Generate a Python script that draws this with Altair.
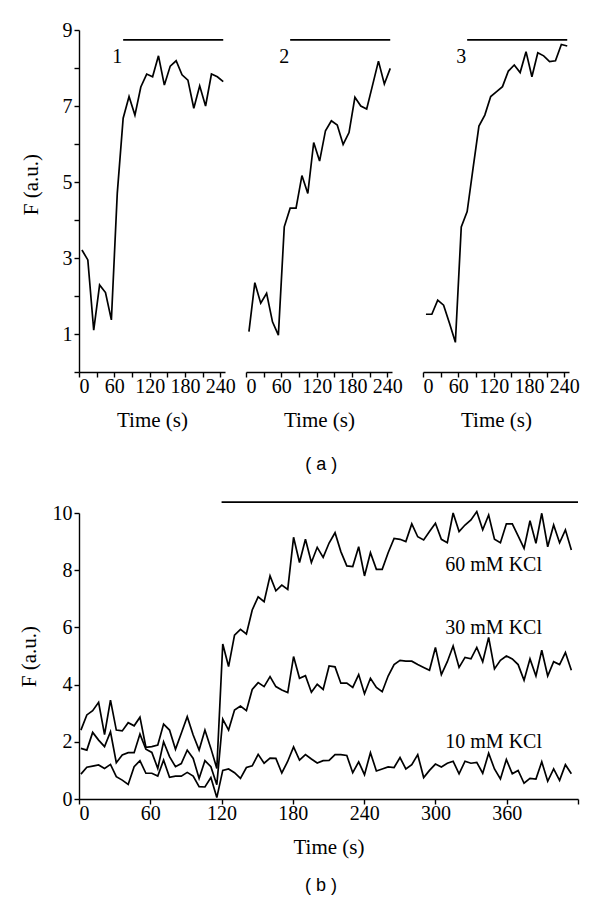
import altair as alt
import numpy as np
import pandas as pd

FONT = "Liberation Serif"
SANS = "Liberation Sans"

# ---------------- Panel (a) data ----------------
t_a = [5, 15, 25, 35, 45, 55, 65, 75, 85, 95, 105, 115, 125, 135, 145,
       155, 165, 175, 185, 195, 205, 215, 225, 235, 245]
f_a1 = [3.21, 2.95, 1.10, 2.29, 2.09, 1.37, 4.70, 6.68, 7.25, 6.76, 7.50, 7.84,
        7.77, 8.32, 7.55, 8.05, 8.19, 7.82, 7.68, 6.94, 7.53, 7.00, 7.84, 7.77, 7.64]
f_a2 = [1.06, 2.35, 1.81, 2.07, 1.32, 0.97, 3.82, 4.31, 4.31, 5.17, 4.70, 6.04,
        5.55, 6.35, 6.61, 6.50, 5.99, 6.30, 7.23, 7.00, 6.92, 7.55, 8.18, 7.58, 7.99]
f_a3 = [1.52, 1.52, 1.89, 1.76, 1.28, 0.78, 3.82, 4.22, 5.36, 6.47, 6.76, 7.25,
        7.38, 7.51, 7.92, 8.08, 7.88, 8.43, 7.77, 8.40, 8.32, 8.17, 8.19, 8.62, 8.58]
a_labels = ["1", "2", "3"]
a_bar = [75, 245, 8.74]          # start, end, level
a_label_pos = [65, 8.3]

# ---------------- Panel (b) data ----------------
t_b = np.round(np.linspace(1.6, 414.4, 84), 1)
f_60 = [2.41, 2.94, 3.09, 3.38, 2.25, 3.46, 2.41, 2.38, 2.67, 2.56,
        2.86, 1.81, 1.83, 1.89, 2.62, 2.41, 1.74, 2.30, 2.88, 2.24,
        1.71, 2.41, 1.77, 1.07, 5.42, 4.63, 5.73, 5.93, 5.77, 6.61,
        7.07, 6.90, 7.80, 7.28, 7.48, 7.33, 9.15, 8.27, 9.08, 8.27,
        8.80, 8.45, 8.95, 9.31, 8.65, 8.15, 8.13, 8.82, 7.80, 8.61,
        8.03, 8.03, 8.61, 9.11, 9.08, 9.00, 9.62, 9.17, 9.06, 9.35,
        9.64, 9.08, 8.96, 10.0, 9.35, 9.58, 9.76, 10.05, 9.41, 9.93,
        9.08, 8.96, 9.62, 9.62, 9.20, 8.76, 9.73, 8.94, 9.99, 8.82,
        9.58, 8.96, 9.41, 8.71]
f_30 = [1.77, 1.71, 2.33, 2.06, 1.83, 2.35, 1.27, 1.54, 1.62, 1.62,
        2.27, 1.74, 1.63, 1.07, 2.00, 1.48, 1.13, 1.24, 1.71, 1.42,
        0.72, 1.34, 1.13, 0.50, 2.79, 2.41, 3.11, 3.25, 3.09, 3.83,
        4.07, 3.93, 4.28, 3.93, 3.81, 3.72, 4.98, 4.22, 4.31, 3.73,
        4.01, 3.83, 4.65, 4.62, 4.05, 4.05, 3.90, 4.35, 3.68, 4.22,
        3.90, 3.75, 4.30, 4.70, 4.85, 4.82, 4.82, 4.70, 4.60, 4.50,
        5.30, 4.35, 4.80, 5.35, 4.60, 4.95, 4.90, 5.30, 4.80, 5.65,
        4.55, 4.85, 5.00, 4.90, 4.70, 4.15, 4.90, 4.30, 5.20, 4.30,
        4.80, 4.70, 5.12, 4.50]
f_10 = [0.87, 1.11, 1.15, 1.19, 1.07, 1.21, 0.78, 0.66, 0.51, 1.13,
        1.34, 0.90, 0.90, 0.80, 1.36, 0.76, 0.80, 0.80, 0.93, 0.80,
        0.43, 0.42, 0.75, 0.05, 1.00, 1.05, 0.92, 0.72, 1.10, 1.16,
        1.56, 1.25, 1.43, 1.42, 0.91, 1.32, 1.82, 1.36, 1.55, 1.40,
        1.26, 1.34, 1.35, 1.55, 1.55, 1.52, 0.92, 1.30, 0.85, 1.62,
        0.98, 1.05, 1.12, 1.10, 1.45, 1.05, 1.20, 1.55, 0.75, 1.00,
        1.22, 1.12, 1.25, 1.32, 0.88, 1.32, 1.25, 1.28, 0.90, 1.60,
        1.05, 0.70, 1.38, 0.88, 1.00, 0.55, 0.72, 0.70, 1.30, 0.62,
        1.05, 0.65, 1.20, 0.88]
b_series = ["60 mM KCl", "30 mM KCl", "10 mM KCl"]
b_label_t = [349, 349, 349]
b_label_f = [8.18, 5.98, 2.0]
b_bar = [120, 420, 10.38]

LW = 1.7
LFS = 20   # tick labels
TFS = 21   # axis titles
AFS = 20   # annotations

# ---------------- Panel (a) builder ----------------
def sub_a(idx, vals, show_y, extra=None):
    x_enc = alt.X("t:Q",
                  scale=alt.Scale(domain=[0, 248], nice=False, zero=False),
                  axis=alt.Axis(values=list(range(0, 241, 30)),
                                labelExpr="datum.value % 60 == 0 ? datum.label : ''",
                                title="Time (s)", labelPadding=-1, titlePadding=13))
    if show_y:
        y_enc = alt.Y("F:Q", scale=alt.Scale(domain=[0, 9], nice=False),
                      axis=alt.Axis(values=list(range(0, 10)),
                                    labelExpr="datum.value % 2 == 1 ? datum.label : ''",
                                    title="F (a.u.)", titleX=-38, titleY=154))
    else:
        y_enc = alt.Y("F:Q", scale=alt.Scale(domain=[0, 9], nice=False), axis=None)

    df = pd.DataFrame({"t": t_a, "F": vals})
    line = alt.Chart(df).mark_line(color="black", strokeWidth=LW).encode(x=x_enc, y=y_enc)
    bar_df = pd.DataFrame({"t": [a_bar[0]], "t2": [a_bar[1]], "F": [a_bar[2]]})
    bar = alt.Chart(bar_df).mark_rule(color="black", strokeWidth=LW).encode(
        x=x_enc, x2="t2:Q", y=y_enc)
    lab_df = pd.DataFrame({"t": [a_label_pos[0]], "F": [a_label_pos[1]], "txt": [a_labels[idx]]})
    lab = alt.Chart(lab_df).mark_text(font=FONT, fontSize=AFS, color="black").encode(
        x=x_enc, y=y_enc, text="txt:N")
    layers = [line, bar, lab]
    if extra is not None:
        ex_df = pd.DataFrame({"t": [extra[0]], "F": [extra[1]], "txt": [extra[2]]})
        layers.append(alt.Chart(ex_df).mark_text(font=SANS, fontSize=18, color="black").encode(
            x=x_enc, y=y_enc, text="txt:N"))
    return alt.layer(*layers).properties(width=146, height=342)


s1 = sub_a(0, f_a1, True)
s2 = sub_a(1, f_a2, False, extra=(128, -2.45, "( a )"))
s3 = sub_a(2, f_a3, False)

row_a = alt.hconcat(s1, alt.hconcat(s2, s3, spacing=31, bounds="flush"),
                    spacing=21, bounds="flush")

# ---------------- Panel (b) ----------------
xb = alt.X("t:Q", scale=alt.Scale(domain=[0, 420], nice=False, zero=False),
           axis=alt.Axis(values=list(range(0, 421, 60)),
                         labelExpr="datum.value == 420 ? '' : datum.label",
                         title="Time (s)", labelPadding=-1, titlePadding=13))
yb = alt.Y("F:Q", scale=alt.Scale(domain=[0, 10], nice=False),
           axis=alt.Axis(values=[0, 2, 4, 6, 8, 10], title="F (a.u.)", titleX=-40))

rows = []
for name, vals in zip(b_series, [f_60, f_30, f_10]):
    for t, f in zip(t_b, vals):
        rows.append({"t": float(t), "F": f, "conc": name})
df_b = pd.DataFrame(rows)

lines_b = alt.Chart(df_b).mark_line(color="black", strokeWidth=LW).encode(
    x=xb, y=yb, detail="conc:N")
bar_b = alt.Chart(pd.DataFrame({"t": [b_bar[0]], "t2": [b_bar[1]], "F": [b_bar[2]]})).mark_rule(
    color="black", strokeWidth=LW).encode(x=xb, x2="t2:Q", y=yb)
lab_b = alt.Chart(pd.DataFrame({"t": b_label_t, "F": b_label_f, "txt": b_series})).mark_text(
    font=FONT, fontSize=AFS, color="black").encode(x=xb, y=yb, text="txt:N")
tag_b = alt.Chart(pd.DataFrame({"t": [203.7], "F": [-3.05], "txt": ["( b )"]})).mark_text(
    font=SANS, fontSize=18, color="black").encode(x=xb, y=yb, text="txt:N")

panel_b = alt.layer(lines_b, bar_b, lab_b, tag_b).properties(width=499, height=286)

chart = alt.vconcat(row_a, panel_b, spacing=483, bounds="flush").properties(
    padding={"left": 10, "top": 12, "right": 5, "bottom": 5}
).configure_view(stroke=None).configure_axis(
    grid=False, domainColor="black", tickColor="black", labelColor="black",
    titleColor="black", labelFont=FONT, titleFont=FONT, labelFontSize=LFS,
    titleFontSize=TFS, titleFontWeight="normal", domainWidth=1.4, tickWidth=1.4,
    tickSize=5
)

chart.save("out.html", embed_options={"renderer": "svg", "actions": False})
